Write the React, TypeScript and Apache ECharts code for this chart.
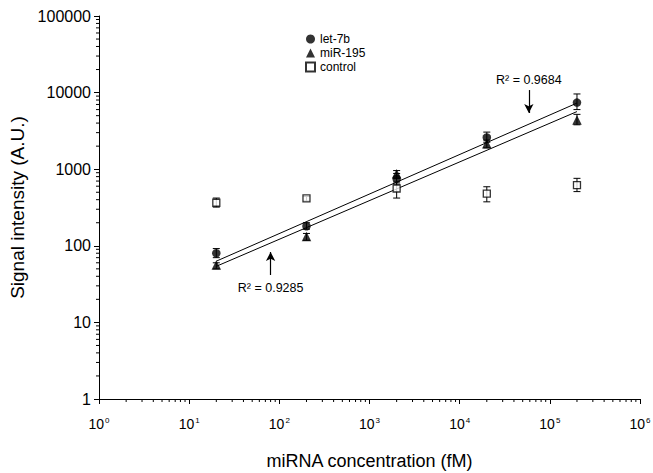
import React, { useEffect, useRef } from 'react';
import * as echarts from 'echarts';

// ---- data ----
const concentrations = [20, 200, 2000, 20000, 200000];

const let7bValues = [80, 180, 750, 2600, 7400];
const let7bLow = [70, 165, 640, 2250, 6000];
const let7bHigh = [92, 200, 880, 3050, 9600];

const mir195Values = [56, 132, 870, 2150, 4400];
const mir195Low = [50, 118, 760, 1900, 3800];
const mir195High = [60, 145, 960, 2400, 5200];

const controlValues = [365, 415, 560, 480, 620];
const controlLow = [320, 385, 420, 375, 510];
const controlHigh = [420, 440, 680, 590, 760];

const fitLet7b = [[20, 63], [200000, 7300]];
const fitMir195 = [[20, 54], [200000, 5650]];

const arrowLow = [[80, 41.6], [80, 83]];
const arrowHigh = [[58500, 10800], [58500, 5420]];
const r2Labels = [
  { pos: [80, 28], text: 'R² = 0.9285' },
  { pos: [58500, 14600], text: 'R² = 0.9684' },
];

const minorMultipliers = [2, 3, 4, 5, 6, 7, 8, 9];
const xDecades = [1, 10, 100, 1000, 10000, 100000];
const yDecades = [1, 10, 100, 1000, 10000];

const FONT = 'Liberation Sans, Arial, sans-serif';

export default function App() {
  const ref = useRef<HTMLDivElement>(null);

  useEffect(() => {
    document.body.style.margin = '0';
    if (!ref.current) return;
    const chart = echarts.init(ref.current, null, { renderer: 'svg' });

    const zip3 = (lo: number[], hi: number[]) =>
      concentrations.map((c, i) => [c, lo[i], hi[i]]);
    const pts = (vals: number[]) => concentrations.map((c, i) => [c, vals[i]]);

    const xMinor: number[][] = [];
    xDecades.forEach((d) => minorMultipliers.forEach((m) => xMinor.push([d * m, 1])));
    const yMinor: number[][] = [];
    yDecades.forEach((d) => minorMultipliers.forEach((m) => yMinor.push([1, d * m])));

    const lineStyle = { stroke: '#000', lineWidth: 1 };

    const errorRender = (params: any, api: any) => {
      const x = api.value(0);
      const lo = api.value(1);
      const hi = api.value(2);
      const top = api.coord([x, hi]);
      const bot = api.coord([x, lo]);
      const w = 3.5;
      return {
        type: 'group',
        children: [
          { type: 'line', shape: { x1: top[0], y1: top[1], x2: bot[0], y2: bot[1] }, style: lineStyle },
          { type: 'line', shape: { x1: top[0] - w, y1: top[1], x2: top[0] + w, y2: top[1] }, style: lineStyle },
          { type: 'line', shape: { x1: bot[0] - w, y1: bot[1], x2: bot[0] + w, y2: bot[1] }, style: lineStyle },
        ],
      };
    };

    const xMinorRender = (params: any, api: any) => {
      const p = api.coord([api.value(0), api.value(1)]);
      return { type: 'line', shape: { x1: p[0], y1: p[1], x2: p[0], y2: p[1] + 3 }, style: lineStyle };
    };
    const yMinorRender = (params: any, api: any) => {
      const p = api.coord([api.value(0), api.value(1)]);
      return { type: 'line', shape: { x1: p[0], y1: p[1], x2: p[0] - 3, y2: p[1] }, style: lineStyle };
    };

    const labelRender = (params: any, api: any) => {
      const p = api.coord([api.value(0), api.value(1)]);
      return {
        type: 'text',
        x: p[0],
        y: p[1],
        style: {
          text: r2Labels[params.dataIndex].text,
          fill: '#000',
          font: `12.5px ${FONT}`,
          align: 'center',
          verticalAlign: 'middle',
        },
      };
    };

    const errSeries = (lo: number[], hi: number[]) => ({
      type: 'custom',
      renderItem: errorRender,
      data: zip3(lo, hi),
      encode: { x: 0, y: [1, 2] },
      z: 1,
      silent: true,
      clip: false,
    });

    chart.setOption({
      animation: false,
      textStyle: { fontFamily: FONT },
      grid: { left: 99, right: 13, top: 16, bottom: 74, outerBoundsMode: 'none' },
      legend: {
        data: [
          { name: 'let-7b', icon: 'circle' },
          { name: 'miR-195', icon: 'triangle' },
          { name: 'control', icon: 'rect' },
        ],
        orient: 'vertical',
        left: 300,
        top: 28,
        itemWidth: 9,
        itemHeight: 9,
        itemGap: 2,
        textStyle: { fontSize: 12, color: '#000', fontFamily: FONT },
      },
      xAxis: {
        type: 'log',
        logBase: 10,
        min: 1,
        max: 1000000,
        name: 'miRNA concentration (fM)',
        nameLocation: 'middle',
        nameGap: 53,
        nameTextStyle: { fontSize: 18, color: '#000', fontFamily: FONT },
        axisLine: { lineStyle: { color: '#000', width: 1 } },
        axisTick: { show: true, length: 5, lineStyle: { color: '#000' } },
        splitLine: { show: false },
        axisLabel: {
          margin: 17,
          color: '#000',
          formatter: (v: number) => `{b|10}{s|${Math.round(Math.log10(v))}}`,
          rich: {
            b: { fontSize: 14, color: '#000', fontFamily: FONT },
            s: { fontSize: 8, color: '#000', fontFamily: FONT, verticalAlign: 'bottom', padding: [0, 0, 8, 1] },
          },
        },
      },
      yAxis: {
        type: 'log',
        logBase: 10,
        min: 1,
        max: 100000,
        name: 'Signal intensity (A.U.)',
        nameLocation: 'middle',
        nameGap: 72,
        nameTextStyle: { fontSize: 19, color: '#000', fontFamily: FONT },
        axisLine: { lineStyle: { color: '#000', width: 1 } },
        axisTick: { show: true, length: 5, lineStyle: { color: '#000' } },
        splitLine: { show: false },
        axisLabel: {
          margin: 8,
          fontSize: 16,
          color: '#000',
          fontFamily: FONT,
          formatter: (v: number) => String(Math.round(v)),
        },
      },
      series: [
        { type: 'custom', renderItem: xMinorRender, data: xMinor, encode: { x: 0, y: 1 }, clip: false, silent: true },
        { type: 'custom', renderItem: yMinorRender, data: yMinor, encode: { x: 0, y: 1 }, clip: false, silent: true },
        {
          type: 'line',
          data: fitLet7b,
          showSymbol: false,
          lineStyle: { color: '#000', width: 1 },
          silent: true,
          z: 2,
        },
        {
          type: 'line',
          data: fitMir195,
          showSymbol: false,
          lineStyle: { color: '#000', width: 1 },
          silent: true,
          z: 2,
          markLine: {
            silent: true,
            symbol: ['none', 'arrow'],
            symbolSize: [7, 9],
            lineStyle: { color: '#000', width: 1.2, type: 'solid' },
            label: { show: false },
            data: [
              [{ coord: arrowLow[0] }, { coord: arrowLow[1] }],
              [{ coord: arrowHigh[0] }, { coord: arrowHigh[1] }],
            ],
          },
        },
        {
          type: 'custom',
          renderItem: labelRender,
          data: r2Labels.map((l) => l.pos),
          encode: { x: 0, y: 1 },
          clip: false,
          silent: true,
          z: 5,
        },
        errSeries(controlLow, controlHigh),
        errSeries(let7bLow, let7bHigh),
        errSeries(mir195Low, mir195High),
        {
          name: 'control',
          type: 'scatter',
          symbol: 'rect',
          symbolSize: 7,
          data: pts(controlValues),
          itemStyle: { color: '#fff', borderColor: '#000', borderWidth: 1.3 },
          z: 3,
        },
        {
          name: 'let-7b',
          type: 'scatter',
          symbol: 'circle',
          symbolSize: 8.5,
          data: pts(let7bValues),
          itemStyle: { color: '#000' },
          z: 4,
        },
        {
          name: 'miR-195',
          type: 'scatter',
          symbol: 'triangle',
          symbolSize: 9.5,
          data: pts(mir195Values),
          itemStyle: { color: '#000' },
          z: 4,
        },
      ],
    });

    return () => chart.dispose();
  }, []);

  return <div ref={ref} style={{ width: 653, height: 473 }} />;
}
